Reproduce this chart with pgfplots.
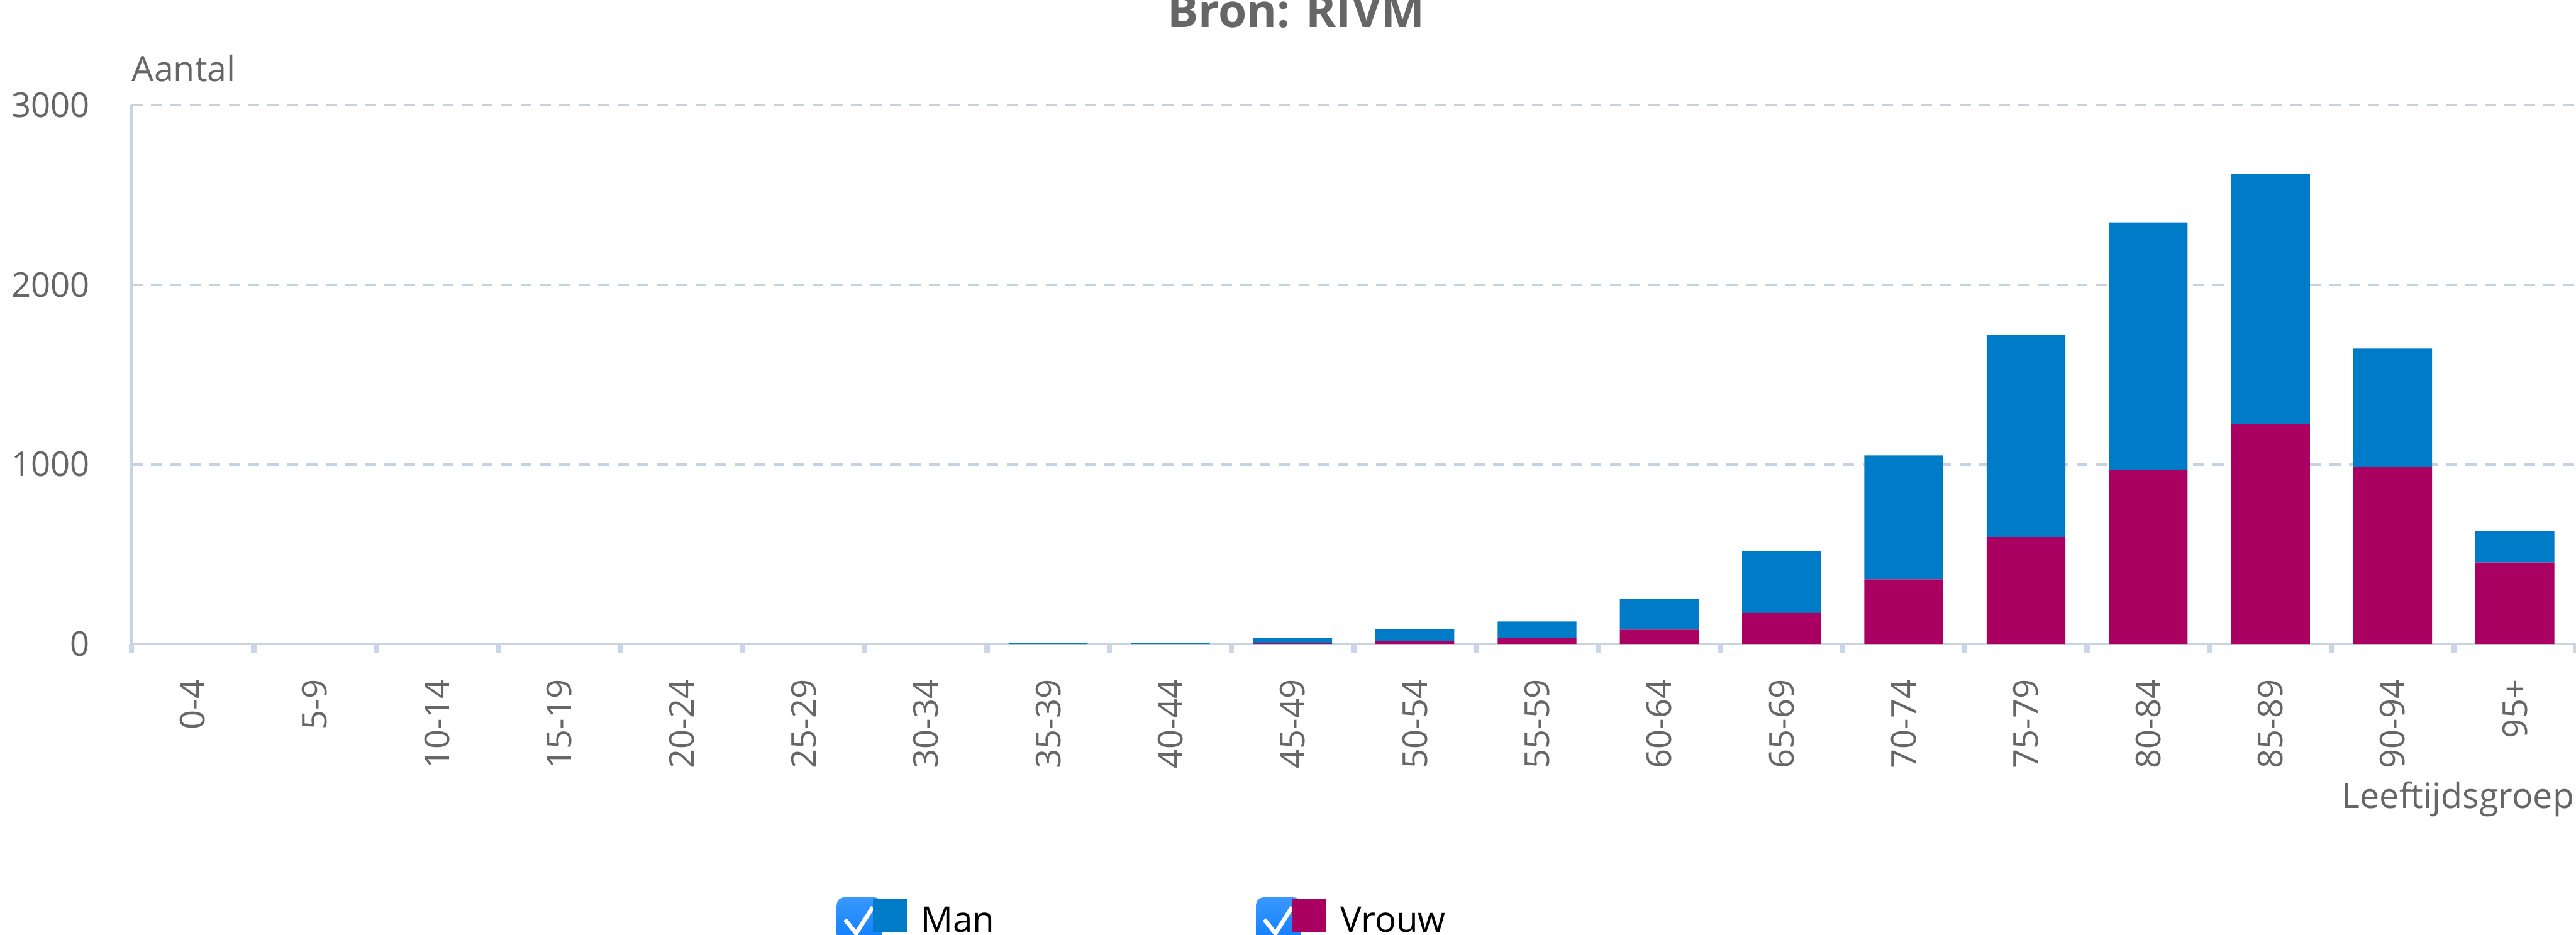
\documentclass[border=0pt]{standalone}
\usepackage{fontspec}
\setmainfont{Open Sans}
\usepackage{pgfplots}
\usepackage{pgfplotstable}
\pgfplotsset{compat=1.18}
\definecolor{manblue}{HTML}{007BC7}
\definecolor{vrouwred}{HTML}{A90061}
\definecolor{txtgray}{HTML}{666666}
\definecolor{gridc}{HTML}{C5D2E3}
\definecolor{axisc}{HTML}{C7D4E6}
\definecolor{tickc}{HTML}{CCD6EB}
\definecolor{chkA}{HTML}{3A98FF}
\definecolor{chkB}{HTML}{0A7BFF}

\pgfplotstableread{
x vrouw man
0 0 0
1 0 0
2 0 0
3 0 0
4 0 0
5 0 0
6 0 0
7 0 3
8 0 3
9 4 30
10 17 64
11 31 94
12 79 171
13 172 346
14 359 690
15 595 1126
16 969 1378
17 1222 1394
18 987 657
19 453 173
}\agedata

\begin{document}
\begin{tikzpicture}[x=1pt,y=1pt]
\path[use as bounding box] (0,0) rectangle (980,-355.625);
\clip (0,0) rectangle (980,-355.625);
\begin{axis}[
  at={(50pt,-245pt)}, anchor=south west,
  width=930pt, height=205pt, scale only axis,
  xmin=-0.5, xmax=19.5, ymin=0, ymax=3000,
  ybar stacked, bar width=0.645,
  axis x line*=bottom, axis y line*=left,
  axis line style={-, axisc, line width=1pt},
  xtick={0,...,19},
  xticklabels={0-4,5-9,10-14,15-19,20-24,25-29,30-34,35-39,40-44,45-49,50-54,55-59,60-64,65-69,70-74,75-79,80-84,85-89,90-94,95+},
  minor xtick={-0.5,0.5,...,19.5},
  major tick length=0pt,
  minor tick length=3.4pt,
  tick align=outside,
  minor x tick style={tickc, line width=2pt},
  major x tick style={draw=none},
  ytick={0,1000,2000,3000},
  ytick style={draw=none},
  ymajorgrids,
  major grid style={gridc, line width=1pt, dash pattern=on 4.2pt off 3.2pt},
  /pgf/number format/.cd, 1000 sep={}, assume math mode=true, /pgfplots/.cd,
  yticklabel style={font=\fontsize{13}{13}\selectfont, text=txtgray, anchor=east, inner sep=0pt, xshift=-15.6pt},
  xticklabel style={font=\fontsize{13}{13}\selectfont, text=txtgray, inner sep=0pt, yshift=-13.4pt, rotate=90, anchor=east},
]
\addplot[fill=vrouwred, draw=none] table[x=x, y=vrouw] {\agedata};
\addplot[fill=manblue, draw=none] table[x=x, y=man] {\agedata};
\end{axis}

% texts
\node[anchor=base, inner sep=0pt, text=txtgray, font=\fontsize{17.5}{17.5}\selectfont\bfseries] at (493.1,-10.5) {Bron: RIVM};
\node[anchor=base west, inner sep=0pt, text=txtgray, font=\fontsize{13.3}{13.3}\selectfont] at (50,-30.9) {Aantal};
\node[anchor=base east, inner sep=0pt, text=txtgray, font=\fontsize{13.3}{13.3}\selectfont] at (979.5,-307.5) {Leeftijdsgroep};

% legend
\foreach \dx/\col/\lab in {0/manblue/Man, 159.5/vrouwred/Vrouw}{
  \begin{scope}[xshift=\dx pt]
    \shade[top color=chkA, bottom color=chkB, rounded corners=3pt] (318.3,-341.4) rectangle (335.5,-360);
    \draw[white, line width=1.6pt] (321.5,-349.9) -- (325.7,-355.2) -- (332,-345.2);
    \fill[\col] (332,-341.9) rectangle (344.9,-354.7);
    \node[anchor=base west, inner sep=0pt, text=black, font=\fontsize{13.5}{13.5}\selectfont] at (350.2,-354.7) {\lab};
  \end{scope}
}
\end{tikzpicture}
\end{document}
